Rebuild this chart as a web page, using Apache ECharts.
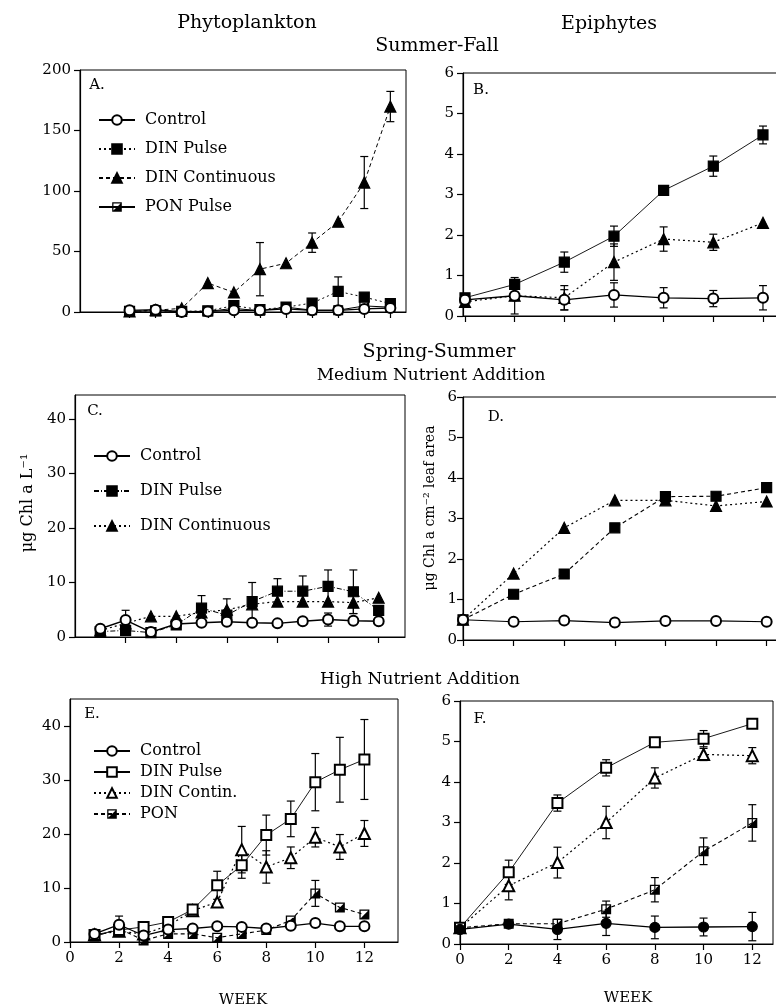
<!DOCTYPE html>
<html>
<head>
<meta charset="utf-8">
<script src="https://cdn.jsdelivr.net/npm/echarts@6/dist/echarts.min.js"></script>
<style>
  html, body { margin: 0; padding: 0; background: #fff; }
  #chart { width: 776px; height: 1007px; }
</style>
</head>
<body>
<div id="chart"></div>
<script>
// ---- data ----
// Summer-Fall, phytoplankton (A)
const weeksA = [1, 2, 3, 4, 5, 6, 7, 8, 9, 10, 11];
const aControl = [1.4, 1.9, 0, 0.5, 1.4, 1.4, 2.5, 1.4, 1.4, 2.5, 3.3];
const aDinPulse = [0.5, 1, 0.5, 1, 5.2, 2, 4, 7.4, 17, 12.3, 6.9];
const aDinCont = [0.5, 1.5, 3, 23.9, 16.2, 35.4, 40.3, 57.3, 74.6, 107, 169.8];
const aPonPulse = [0.5, 1, 0.5, 0.5, 3, 1, 4, 1.5, 1.5, 5, 4];
const aDinContErr = [null, null, null, null, null, 22, null, 8, null, 21.5, 12.5];
const aDinPulseErr = [null, null, null, null, null, null, null, null, 12, null, null];

// Summer-Fall, epiphytes (B)
const weeksB = [0, 2, 4, 6, 8, 10, 12];
const bControl = [0.4, 0.5, 0.4, 0.52, 0.45, 0.43, 0.45];
const bDinPulse = [0.45, 0.78, 1.33, 1.97, 3.1, 3.7, 4.47];
const bDinCont = [0.35, 0.5, 0.45, 1.33, 1.9, 1.82, 2.3];
const bControlErr = [null, null, 0.25, 0.3, 0.25, 0.2, 0.3];
const bDinPulseErr = [null, null, 0.25, 0.25, null, 0.25, 0.22];
const bDinContErr = [null, 0.45, 0.3, 0.45, 0.3, 0.2, null];

// Spring-Summer medium, phytoplankton (C)
const weeksC = [1, 2, 3, 4, 5, 6, 7, 8, 9, 10, 11, 12];
const cControl = [1.5, 3.1, 0.9, 2.4, 2.6, 2.8, 2.6, 2.5, 2.9, 3.2, 3.0, 2.9];
const cDinPulse = [1.0, 1.2, 0.8, 2.2, 5.3, 4.0, 6.5, 8.4, 8.4, 9.3, 8.3, 4.9];
const cDinCont = [1.2, 2.5, 3.8, 3.8, 4.5, 5.0, 6.0, 6.5, 6.5, 6.5, 6.3, 7.2];
const cControlErr = [null, 1.8, null, null, null, null, null, null, null, 1.2, null, null];
const cDinPulseErr = [null, null, null, null, 2.3, null, 3.5, 2.3, 2.8, 3.0, 4.0, null];
const cDinContErr = [null, null, null, null, null, 2.0, null, null, null, null, 2.0, null];

// Spring-Summer medium, epiphytes (D)
const weeksD = [0, 2, 4, 6, 8, 10, 12];
const dControl = [0.5, 0.45, 0.48, 0.43, 0.47, 0.47, 0.45];
const dDinPulse = [0.5, 1.13, 1.63, 2.77, 3.54, 3.55, 3.76];
const dDinCont = [0.5, 1.64, 2.77, 3.45, 3.45, 3.31, 3.42];

// Spring-Summer high, phytoplankton (E)
const weeksE = [1, 2, 3, 4, 5, 6, 7, 8, 9, 10, 11, 12];
const eControl = [1.5, 3.2, 1.2, 2.3, 2.5, 2.9, 2.8, 2.5, 3.0, 3.5, 2.9, 2.9];
const eDinPulse = [1.3, 2.2, 2.8, 3.7, 6.0, 10.5, 14.2, 19.8, 22.8, 29.6, 31.9, 33.8];
const eDinCont = [1.3, 2.0, 1.5, 3.0, 5.8, 7.4, 17.1, 13.9, 15.6, 19.4, 17.6, 20.1];
const ePon = [1.0, 2.5, 0.3, 1.5, 1.5, 0.8, 1.5, 2.2, 4.0, 9.0, 6.4, 5.1];
const eControlErr = [null, 1.6, null, null, null, null, null, null, null, null, null, null];
const eDinPulseErr = [null, null, null, null, null, 2.6, 2.4, 3.7, 3.3, 5.3, 6.0, 7.4];
const eDinContErr = [null, null, null, null, null, null, 4.3, 3.0, 2.0, 1.8, 2.3, 2.4];
const ePonErr = [null, null, null, null, null, null, null, null, null, 2.4, null, null];

// Spring-Summer high, epiphytes (F)
const weeksF = [0, 2, 4, 6, 8, 10, 12];
const fControl = [0.36, 0.49, 0.36, 0.51, 0.41, 0.42, 0.43];
const fDinPulse = [0.4, 1.77, 3.48, 4.35, 4.98, 5.07, 5.44];
const fDinCont = [0.4, 1.44, 2.01, 3.0, 4.1, 4.68, 4.65];
const fPon = [0.4, 0.5, 0.5, 0.86, 1.34, 2.29, 2.99];
const fControlErr = [null, null, 0.25, 0.3, 0.28, 0.22, 0.35];
const fDinPulseErr = [null, 0.3, 0.2, 0.2, null, 0.2, null];
const fDinContErr = [null, 0.35, 0.38, 0.4, 0.25, 0.15, 0.2];
const fPonErr = [null, null, null, 0.2, 0.3, 0.33, 0.45];

// tick values
const ticksA = [0, 50, 100, 150, 200];
const ticks40 = [0, 10, 20, 30, 40];
const ticks6 = [0, 1, 2, 3, 4, 5, 6];
const weekTicksEven = [0, 2, 4, 6, 8, 10, 12];
const weekTicksC = [2, 4, 6, 8, 10, 12];

// ---- helpers ----
const FONT = '"DejaVu Serif", "Liberation Serif", serif';
const DOT = [2, 3];
const DASH = [4, 3];
const DASHDOT = [5, 2, 1, 2];
const HALF_SQ = 'path://M0,0H10V10H0ZM1.3,1.3V8.7H8.7V1.3ZM8.7,1.3V8.7H1.3Z';

function line(name, xs, ys, g, symbol, size, type, width) {
    return {
        type: 'line', name: name, xAxisIndex: g, yAxisIndex: g,
        data: xs.map((x, i) => [x, ys[i]]),
        symbol: symbol, symbolSize: size, showSymbol: true,
        lineStyle: { color: '#000', width: width || 1, type: type || 'solid' },
        itemStyle: { color: '#000', borderColor: '#000', borderWidth: symbol === HALF_SQ ? 0 : 1.2 },
        emphasis: { disabled: true }, z: 3
    };
}

function renderErr(params, api) {
    const x = api.value(0);
    const lo = api.coord([x, api.value(1)]);
    const hi = api.coord([x, api.value(2)]);
    const w = 4;
    const st = { stroke: '#000', lineWidth: 1.2 };
    return {
        type: 'group', children: [
            { type: 'line', shape: { x1: lo[0], y1: lo[1], x2: hi[0], y2: hi[1] }, style: st },
            { type: 'line', shape: { x1: lo[0] - w, y1: lo[1], x2: lo[0] + w, y2: lo[1] }, style: st },
            { type: 'line', shape: { x1: hi[0] - w, y1: hi[1], x2: hi[0] + w, y2: hi[1] }, style: st }
        ]
    };
}

function errs(xs, ys, sd, g) {
    const d = [];
    xs.forEach((x, i) => {
        if (sd[i] != null) d.push([x, ys[i] - sd[i], ys[i] + sd[i]]);
    });
    return { type: 'custom', xAxisIndex: g, yAxisIndex: g, data: d, renderItem: renderErr,
             encode: { x: 0, y: [1, 2] }, z: 1, silent: true };
}

function xAx(g, min, max, ticks, labels) {
    return {
        type: 'value', gridIndex: g, min: min, max: max,
        splitLine: { show: false },
        axisLine: { onZero: false, lineStyle: { color: '#000', width: 1.2 } },
        axisTick: { customValues: ticks, length: 6, lineStyle: { color: '#000', width: 1.2 } },
        axisLabel: { show: !!labels, customValues: ticks, color: '#000', fontFamily: FONT, fontSize: 15, margin: 9 }
    };
}

function yAx(g, max, ticks, margin) {
    return {
        type: 'value', gridIndex: g, min: 0, max: max,
        splitLine: { show: false },
        axisLine: { onZero: false, lineStyle: { color: '#000', width: 1.2 } },
        axisTick: { customValues: ticks, length: 6, lineStyle: { color: '#000', width: 1.2 } },
        axisLabel: { customValues: ticks, color: '#000', fontFamily: FONT, fontSize: 15, margin: margin || 9 }
    };
}

function grid(left, top, width, height) {
    return { left: left, top: top, width: width, height: height, show: true,
             borderColor: '#000', borderWidth: 1, backgroundColor: 'transparent', outerBoundsMode: 'none' };
}

function legend(names, left, top, gap) {
    return {
        data: names, orient: 'vertical', left: left, top: top, itemGap: gap,
        itemWidth: 36, itemHeight: 12, selectedMode: false,
        formatter: n => ' ' + n.slice(2),
        textStyle: { color: '#000', fontFamily: FONT, fontSize: 16 }
    };
}

function text(str, x, y, size, rot) {
    return { type: 'text', x: x, y: y, rotation: rot || 0,
             style: { text: str, font: size + 'px ' + FONT, fill: '#000', textAlign: 'center', textVerticalAlign: 'middle' } };
}

// ---- chart ----
const chart = echarts.init(document.getElementById('chart'));
chart.setOption({
    backgroundColor: '#fff',
    animation: false,
    grid: [
        grid(80, 70, 326, 242),
        grid(463, 73, 333, 243),
        grid(75, 395, 330, 242),
        grid(463, 397, 333, 243),
        grid(70, 699, 328, 243),
        grid(460, 701, 313, 243)
    ],
    xAxis: [
        xAx(0, -0.9, 11.6, weeksA, false),
        xAx(1, -0.08, 13.33, weekTicksEven, false),
        xAx(2, 0, 13.04, weekTicksC, false),
        xAx(3, 0, 13.16, weekTicksEven, false),
        xAx(4, 0, 13.37, weekTicksEven, true),
        xAx(5, 0, 12.85, weekTicksEven, true)
    ],
    yAxis: [
        yAx(0, 200, ticksA),
        yAx(1, 6, ticks6),
        yAx(2, 44.4, ticks40),
        yAx(3, 6, ticks6, 6),
        yAx(4, 45, ticks40),
        yAx(5, 6, ticks6)
    ],
    legend: [
        legend(['A:Control', 'A:DIN Pulse', 'A:DIN Continuous', 'A:PON Pulse'], 93, 107, 13),
        legend(['C:Control', 'C:DIN Pulse', 'C:DIN Continuous'], 88, 443, 19),
        legend(['E:Control', 'E:DIN Pulse', 'E:DIN Contin.', 'E:PON'], 88, 738, 5)
    ],
    graphic: [
        text('Phytoplankton', 247, 23, 19),
        text('Epiphytes', 609, 24, 19),
        text('Summer-Fall', 437, 46, 19),
        text('Spring-Summer', 439, 352, 19),
        text('Medium Nutrient Addition', 431, 376, 17),
        text('High Nutrient Addition', 420, 680, 17),
        text('WEEK', 243, 1000, 15),
        text('WEEK', 628, 998, 15),
        text('A.', 97, 85, 15),
        text('B.', 481, 90, 15),
        text('C.', 95, 411, 15),
        text('D.', 496, 417, 15),
        text('E.', 92, 714, 15),
        text('F.', 480, 719, 15),
        text('μg Chl a L⁻¹', 28, 503, 16, Math.PI / 2),
        text('μg Chl a cm⁻² leaf area', 430, 508, 14, Math.PI / 2)
    ],
    series: [
        // A
        errs(weeksA, aDinCont, aDinContErr, 0),
        errs(weeksA, aDinPulse, aDinPulseErr, 0),
        line('A:DIN Continuous', weeksA, aDinCont, 0, 'triangle', 11, DASH, 1),
        line('A:DIN Pulse', weeksA, aDinPulse, 0, 'rect', 10, DOT, 1),
        line('A:PON Pulse', weeksA, aPonPulse, 0, HALF_SQ, 10, 'solid', 1),
        line('A:Control', weeksA, aControl, 0, 'emptyCircle', 10, 'solid', 1.3),
        // B
        errs(weeksB, bControl, bControlErr, 1),
        errs(weeksB, bDinPulse, bDinPulseErr, 1),
        errs(weeksB, bDinCont, bDinContErr, 1),
        line('B:DIN Continuous', weeksB, bDinCont, 1, 'triangle', 11, DOT, 1.2),
        line('B:DIN Pulse', weeksB, bDinPulse, 1, 'rect', 10, 'solid', 0.9),
        line('B:Control', weeksB, bControl, 1, 'emptyCircle', 10, 'solid', 1.3),
        // C
        errs(weeksC, cControl, cControlErr, 2),
        errs(weeksC, cDinPulse, cDinPulseErr, 2),
        errs(weeksC, cDinCont, cDinContErr, 2),
        line('C:DIN Continuous', weeksC, cDinCont, 2, 'triangle', 11, DOT, 1.2),
        line('C:DIN Pulse', weeksC, cDinPulse, 2, 'rect', 10, DASHDOT, 1),
        line('C:Control', weeksC, cControl, 2, 'emptyCircle', 10, 'solid', 1.5),
        // D
        line('D:DIN Continuous', weeksD, dDinCont, 3, 'triangle', 11, DOT, 1.2),
        line('D:DIN Pulse', weeksD, dDinPulse, 3, 'rect', 10, DASH, 1.1),
        line('D:Control', weeksD, dControl, 3, 'emptyCircle', 10, 'solid', 1.2),
        // E
        errs(weeksE, eControl, eControlErr, 4),
        errs(weeksE, eDinPulse, eDinPulseErr, 4),
        errs(weeksE, eDinCont, eDinContErr, 4),
        errs(weeksE, ePon, ePonErr, 4),
        line('E:PON', weeksE, ePon, 4, HALF_SQ, 10, DASH, 1.1),
        line('E:DIN Contin.', weeksE, eDinCont, 4, 'emptyTriangle', 11, DOT, 1.2),
        line('E:DIN Pulse', weeksE, eDinPulse, 4, 'emptyRect', 10, 'solid', 0.9),
        line('E:Control', weeksE, eControl, 4, 'emptyCircle', 10, 'solid', 1.3),
        // F
        errs(weeksF, fControl, fControlErr, 5),
        errs(weeksF, fDinPulse, fDinPulseErr, 5),
        errs(weeksF, fDinCont, fDinContErr, 5),
        errs(weeksF, fPon, fPonErr, 5),
        line('F:PON', weeksF, fPon, 5, HALF_SQ, 10, DASH, 1.1),
        line('F:DIN Contin.', weeksF, fDinCont, 5, 'emptyTriangle', 11, DOT, 1.2),
        line('F:DIN Pulse', weeksF, fDinPulse, 5, 'emptyRect', 10, 'solid', 0.9),
        line('F:Control', weeksF, fControl, 5, 'circle', 10, 'solid', 1.3)
    ]
});
</script>
</body>
</html>
